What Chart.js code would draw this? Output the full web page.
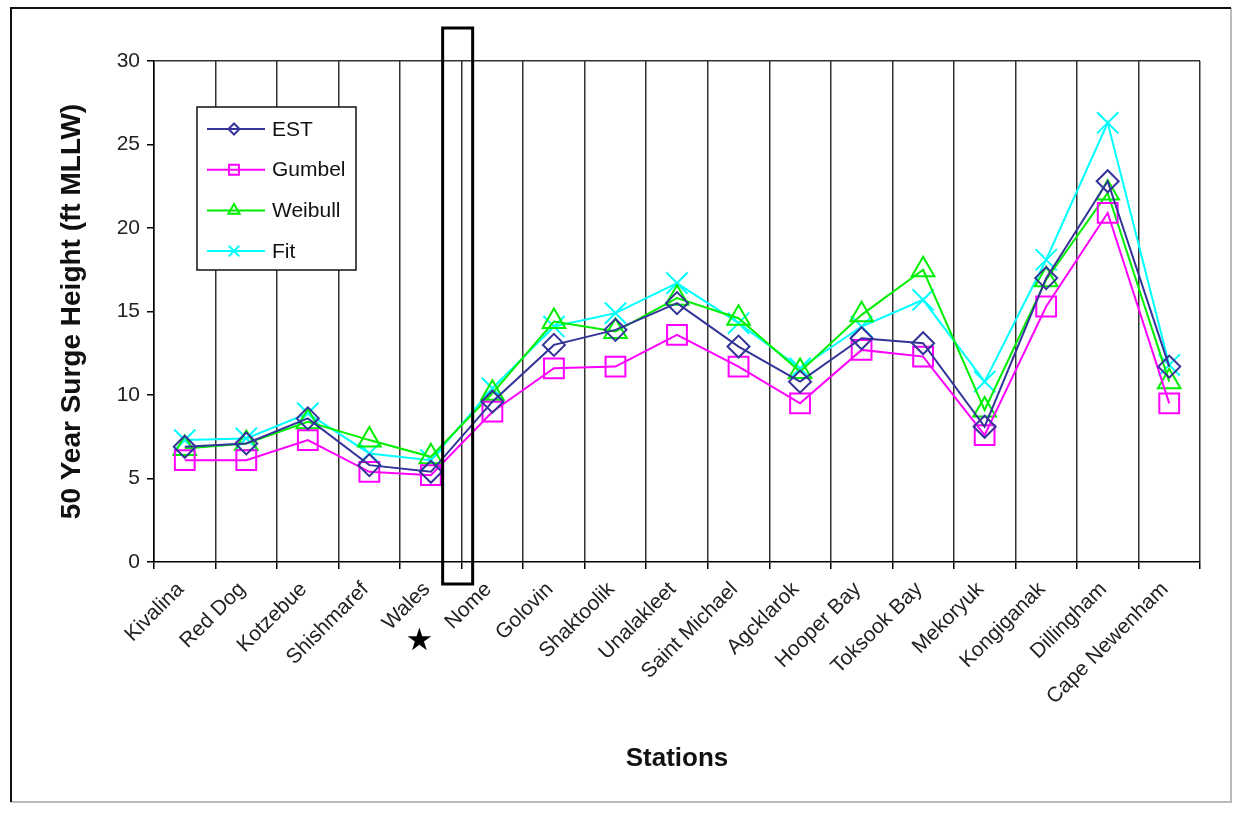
<!DOCTYPE html>
<html lang="en">
<head>
    <meta charset="UTF-8">
    <title>50 Year Surge Height by Station</title>
    <script src="https://cdn.jsdelivr.net/npm/chart.js"></script>
    <style>
        body { margin: 0; background: #fff; }
        canvas { display: block; }
    </style>
</head>
<body>
    <canvas id="surgeChart" width="1238" height="816"></canvas>

    <script>
        // station names along the x axis
        const stations = ['Kivalina', 'Red Dog', 'Kotzebue', 'Shishmaref', 'Wales', 'Nome', 'Golovin',
            'Shaktoolik', 'Unalakleet', 'Saint Michael', 'Agcklarok', 'Hooper Bay', 'Toksook Bay',
            'Mekoryuk', 'Kongiganak', 'Dillingham', 'Cape Newenham'];

        // 50 year surge height (ft MLLW)
        const est     = [6.9, 7.1, 8.6, 5.8, 5.4, 9.6, 13.0, 13.9, 15.5, 12.9, 10.8, 13.4, 13.1, 8.1, 17.0, 22.8, 11.7];
        const gumbel  = [6.1, 6.1, 7.3, 5.4, 5.2, 9.0, 11.6, 11.7, 13.6, 11.7, 9.5, 12.7, 12.3, 7.6, 15.3, 20.9, 9.5];
        const weibull = [6.8, 7.1, 8.4, 7.3, 6.3, 10.1, 14.4, 13.8, 15.8, 14.6, 11.4, 14.8, 17.5, 9.1, 16.9, 22.1, 10.8];
        const fit     = [7.3, 7.4, 8.9, 6.5, 6.1, 10.4, 14.1, 14.9, 16.7, 14.3, 11.6, 14.1, 15.7, 10.8, 18.1, 26.3, 11.8];

        const yTicks = [0, 5, 10, 15, 20, 25, 30];
        const markedStation = 'Nome';

        const FONT = "'Liberation Sans', Arial, sans-serif";

        function series(label, data, color, style, radius, legendRadius) {
            return {
                label: label,
                data: data,
                borderColor: color,
                borderWidth: 2,
                pointStyle: style,
                pointRadius: radius,
                pointBorderColor: color,
                pointBorderWidth: 2,
                pointBackgroundColor: 'rgba(0,0,0,0)',
                legendRadius: legendRadius,
                tension: 0
            };
        }

        // frame, legend box, marker rectangle and star
        const extras = {
            id: 'extras',
            beforeDraw(chart) {
                const ctx = chart.ctx;
                ctx.save();
                ctx.fillStyle = '#fff';
                ctx.fillRect(0, 0, chart.width, chart.height);
                ctx.lineWidth = 2;
                ctx.strokeStyle = '#bbb';
                ctx.beginPath();
                ctx.moveTo(1231, 8);
                ctx.lineTo(1231, 802);
                ctx.lineTo(11, 802);
                ctx.stroke();
                ctx.strokeStyle = '#111';
                ctx.beginPath();
                ctx.moveTo(11, 802);
                ctx.lineTo(11, 8);
                ctx.lineTo(1231, 8);
                ctx.stroke();
                ctx.restore();
            },
            afterDraw(chart) {
                const ctx = chart.ctx;
                const area = chart.chartArea;
                const x = chart.scales.x;
                ctx.save();

                // legend inside the plot
                const lx = area.left + 43, ly = area.top + 46, lw = 159, lh = 163;
                ctx.fillStyle = '#fff';
                ctx.fillRect(lx, ly, lw, lh);
                ctx.strokeStyle = '#111';
                ctx.lineWidth = 1.5;
                ctx.strokeRect(lx, ly, lw, lh);
                ctx.font = '21px ' + FONT;
                ctx.textBaseline = 'middle';
                chart.data.datasets.forEach((ds, i) => {
                    const yy = ly + 22 + i * 40.7;
                    ctx.strokeStyle = ds.borderColor;
                    ctx.lineWidth = 2;
                    ctx.beginPath();
                    ctx.moveTo(lx + 10, yy);
                    ctx.lineTo(lx + 68, yy);
                    ctx.stroke();
                    ctx.fillStyle = 'rgba(0,0,0,0)';
                    Chart.helpers.drawPoint(ctx, {
                        pointStyle: ds.pointStyle,
                        radius: ds.legendRadius,
                        rotation: 0,
                        borderWidth: 2
                    }, lx + 37, yy);
                    ctx.fillStyle = '#111';
                    ctx.fillText(ds.label, lx + 75, yy + 1);
                });

                // box around the boundary just before Nome
                const idx = stations.indexOf(markedStation);
                const b = (x.getPixelForValue(idx - 1) + x.getPixelForValue(idx)) / 2;
                ctx.strokeStyle = '#000';
                ctx.lineWidth = 3;
                ctx.strokeRect(b - 19, area.top - 33, 30, area.bottom - area.top + 55);

                // star beside the Nome label
                ctx.fillStyle = '#000';
                ctx.font = '31px "DejaVu Sans", sans-serif';
                ctx.textAlign = 'center';
                ctx.textBaseline = 'middle';
                ctx.fillText('\u2605', x.getPixelForValue(idx) - 73, area.bottom + 80);
                ctx.restore();
            }
        };

        const ctx = document.getElementById('surgeChart').getContext('2d');
        const surgeChart = new Chart(ctx, {
            type: 'line',
            data: {
                labels: stations,
                datasets: [
                    series('EST', est, '#333399', 'rectRot', 11, 5.5),
                    series('Gumbel', gumbel, '#ff00ff', 'rect', 14, 7),
                    series('Weibull', weibull, '#00ee00', 'triangle', 13, 6.5),
                    series('Fit', fit, '#00ffff', 'crossRot', 15, 7.5)
                ]
            },
            options: {
                responsive: false,
                animation: false,
                devicePixelRatio: 1,
                layout: {
                    padding: { top: 61, right: 38, left: 20, bottom: 40 }
                },
                plugins: {
                    legend: { display: false },
                    tooltip: { enabled: false }
                },
                scales: {
                    x: {
                        offset: true,
                        afterFit(s) { s.height = 214; },
                        grid: {
                            offset: true,
                            color: '#333',
                            lineWidth: 1.5,
                            tickLength: 7,
                            tickColor: '#000'
                        },
                        border: { color: '#000', width: 1.5 },
                        ticks: {
                            autoSkip: false,
                            minRotation: 45,
                            maxRotation: 45,
                            padding: 4,
                            color: '#222',
                            font: { family: FONT, size: 21 },
                            // trailing space nudges each slanted label away from its tick
                            callback: function (v) { return this.getLabelForValue(v) + ' '; }
                        },
                        title: {
                            display: true,
                            text: 'Stations',
                            color: '#111',
                            font: { family: FONT, size: 26, weight: 'bold' },
                            padding: { top: 0, bottom: 2 }
                        }
                    },
                    y: {
                        min: 0,
                        max: 30,
                        afterFit(s) { s.width = 134; },
                        afterBuildTicks(s) { s.ticks = yTicks.map(v => ({ value: v })); },
                        grid: {
                            color: c => (c.tick && c.tick.value === 30) ? '#333' : 'rgba(0,0,0,0)',
                            lineWidth: 1.5,
                            tickLength: 7,
                            tickColor: '#000'
                        },
                        border: { color: '#000', width: 1.5 },
                        ticks: {
                            padding: 7,
                            color: '#222',
                            font: { family: FONT, size: 21 }
                        },
                        title: {
                            display: true,
                            text: '50 Year Surge Height (ft MLLW)',
                            color: '#111',
                            font: { family: FONT, size: 28, weight: 'bold' },
                            padding: { top: 35, bottom: 0 }
                        }
                    }
                }
            },
            plugins: [extras]
        });
    </script>
</body>
</html>
